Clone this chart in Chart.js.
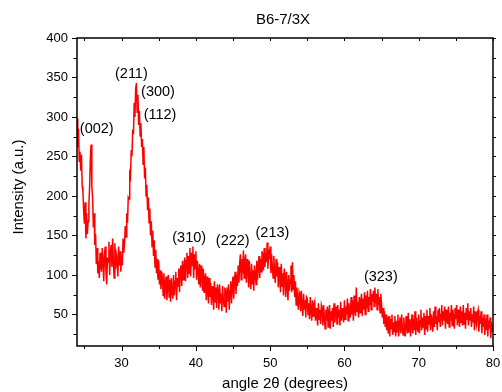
<!DOCTYPE html>
<html>
<head>
<meta charset="utf-8">
<title>B6-7/3X</title>
<script src="https://cdn.jsdelivr.net/npm/chart.js@4.4.0/dist/chart.umd.min.js"></script>
<style>
  body { margin: 0; background: #fff; }
  canvas { display: block; }
</style>
</head>
<body>
<canvas id="xrdChart" width="502" height="392"></canvas>
<script>
// XRD scan, 2θ from 24° to 80°, one reading every 0.1°
const angleStart = 24;
const angleStep = 0.1;
const intensity = [
  298, 262, 285, 244, 256, 232, 252, 212, 206, 180,
  165, 192, 146, 178, 152, 168, 188, 212, 248, 265,
  212, 198, 160, 178, 138, 152, 114, 134, 102, 118,
  96, 128, 112, 104, 134, 118, 92, 126, 136, 104,
  88, 122, 116, 142, 100, 128, 138, 110, 146, 118,
  96, 140, 108, 126, 120, 98, 136, 112, 130, 104,
  124, 112, 146, 128, 140, 162, 148, 178, 166, 198,
  196, 228, 224, 258, 250, 284, 278, 318, 300, 336,
  343, 306, 328, 290, 308, 276, 292, 262, 272, 240,
  262, 222, 236, 200, 214, 182, 198, 166, 184, 150,
  168, 136, 156, 124, 144, 110, 132, 102, 120, 94,
  118, 88, 106, 82, 104, 96, 74, 102, 70, 90,
  98, 68, 88, 100, 72, 94, 66, 96, 80, 70,
  100, 74, 92, 104, 68, 96, 86, 108, 78, 104,
  112, 86, 118, 94, 108, 122, 92, 118, 128, 96,
  124, 102, 134, 98, 128, 112, 136, 96, 126, 108,
  130, 94, 118, 104, 88, 114, 84, 112, 98, 80,
  108, 78, 96, 102, 68, 98, 82, 64, 96, 72,
  90, 62, 86, 78, 56, 92, 66, 84, 58, 88,
  80, 56, 88, 64, 76, 54, 86, 68, 60, 84,
  78, 52, 84, 66, 88, 56, 80, 92, 64, 86,
  98, 70, 94, 104, 76, 100, 86, 112, 90, 116,
  126, 94, 120, 102, 131, 96, 118, 126, 90, 120,
  112, 84, 118, 94, 82, 114, 88, 106, 80, 112,
  104, 88, 118, 94, 112, 124, 96, 120, 104, 130,
  124, 106, 134, 110, 128, 116, 141, 108, 132, 120,
  136, 102, 126, 110, 96, 124, 102, 90, 120, 98,
  116, 84, 110, 96, 78, 114, 86, 102, 74, 108,
  98, 72, 104, 86, 68, 100, 80, 94, 112, 78,
  116, 82, 100, 72, 92, 62, 84, 68, 56, 78,
  74, 54, 80, 60, 48, 76, 56, 68, 46, 72,
  70, 50, 64, 44, 72, 54, 42, 68, 48, 62,
  66, 42, 58, 48, 36, 64, 44, 56, 38, 62,
  58, 36, 62, 46, 32, 56, 42, 60, 34, 52,
  62, 32, 54, 42, 58, 34, 64, 40, 50, 60,
  38, 62, 46, 56, 36, 66, 42, 58, 48, 40,
  68, 44, 60, 50, 70, 42, 64, 54, 46, 72,
  50, 68, 42, 74, 56, 48, 84, 54, 66, 46,
  72, 52, 66, 76, 48, 70, 56, 78, 50, 74,
  58, 80, 54, 72, 62, 82, 56, 76, 66, 80,
  60, 84, 64, 76, 56, 82, 62, 72, 52, 76,
  62, 46, 58, 38, 54, 34, 50, 30, 46, 26,
  48, 22, 44, 32, 50, 24, 40, 28, 48, 22,
  42, 28, 50, 22, 38, 46, 26, 50, 32, 24,
  46, 30, 22, 48, 34, 26, 52, 28, 44, 22,
  38, 50, 26, 44, 30, 54, 24, 46, 34, 28,
  50, 26, 42, 56, 30, 46, 34, 52, 24, 48,
  32, 56, 28, 48, 38, 58, 30, 50, 42, 28,
  54, 34, 60, 38, 48, 30, 56, 40, 58, 34,
  50, 62, 36, 54, 42, 60, 32, 56, 44, 38,
  60, 34, 52, 42, 62, 36, 56, 46, 32, 58,
  44, 62, 36, 56, 44, 34, 60, 40, 54, 36,
  62, 38, 52, 32, 58, 44, 64, 36, 54, 42,
  58, 34, 50, 40, 60, 30, 54, 42, 36, 52,
  56, 28, 48, 38, 54, 26, 46, 34, 50, 24,
  44, 30, 50, 22, 42, 32, 46, 20, 40, 28,
  36
];
const xTicks = [30, 40, 50, 60, 70, 80];
const yTicks = [50, 100, 150, 200, 250, 300, 350, 400];

// peak (hkl) labels, anchored at (angle, intensity)
const peakNames = ['(002)', '(211)', '(300)', '(112)', '(310)', '(222)', '(213)', '(323)'];
const peakAngles = [26.66, 31.32, 34.9, 35.18, 39.1, 44.97, 50.31, 64.9];
const peakLevels = [285, 354, 331, 303, 147, 143, 153, 97];

const FONT = '"Liberation Sans", Arial, sans-serif';

const points = intensity.map((v, i) => ({ x: angleStart + i * angleStep, y: v }));

// Origin-style box frame with major/minor ticks plus all the texts
const frameAndText = {
    id: 'frameAndText',
    afterDraw(chart) {
        const { ctx, chartArea: a, scales: { x, y } } = chart;
        ctx.save();
        ctx.strokeStyle = '#000';
        ctx.lineWidth = 1.5;
        ctx.strokeRect(a.left, a.top, a.right - a.left, a.bottom - a.top);

        ctx.lineWidth = 1;
        ctx.beginPath();
        for (let v = 25; v <= 80; v += 5) {
            const px = Math.round(x.getPixelForValue(v)) + 0.5;
            const len = v % 10 === 0 ? 5 : 3;
            ctx.moveTo(px, a.bottom); ctx.lineTo(px, a.bottom + len);
            ctx.moveTo(px, a.top); ctx.lineTo(px, a.top + 3);
        }
        for (let v = 25; v <= 400; v += 25) {
            const py = Math.round(y.getPixelForValue(v)) + 0.5;
            const len = v % 50 === 0 ? 5 : 3.5;
            ctx.moveTo(a.left - len, py); ctx.lineTo(a.left, py);
            ctx.moveTo(a.right, py); ctx.lineTo(a.right + 3, py);
        }
        ctx.stroke();

        ctx.fillStyle = '#000';
        ctx.textAlign = 'center';
        ctx.textBaseline = 'middle';
        ctx.font = '15px ' + FONT;
        const midX = (a.left + a.right) / 2;
        ctx.fillText('B6-7/3X', midX - 2, 20);
        ctx.fillText('angle 2θ (degrees)', midX, 384);

        ctx.save();
        ctx.translate(19, (a.top + a.bottom) / 2 - 5);
        ctx.rotate(-Math.PI / 2);
        ctx.fillText('Intensity (a.u.)', 0, 0);
        ctx.restore();

        ctx.font = '14.5px ' + FONT;
        peakNames.forEach((name, i) => {
            ctx.fillText(name, x.getPixelForValue(peakAngles[i]), y.getPixelForValue(peakLevels[i]));
        });
        ctx.restore();
    }
};

const ctx = document.getElementById('xrdChart').getContext('2d');
const xrdChart = new Chart(ctx, {
    type: 'line',
    data: {
        datasets: [{
            data: points,
            borderColor: 'rgb(255, 0, 0)',
            borderWidth: 1.5,
            pointRadius: 0,
            tension: 0
        }]
    },
    options: {
        responsive: false,
        animation: false,
        devicePixelRatio: 1,
        layout: { padding: { top: 38, right: 9, left: 0, bottom: 0 } },
        plugins: {
            legend: { display: false },
            tooltip: { enabled: false }
        },
        scales: {
            x: {
                type: 'linear',
                min: 24,
                max: 80,
                grid: { display: true, drawOnChartArea: false, drawTicks: false },
                border: { display: false },
                afterBuildTicks: s => { s.ticks = xTicks.map(v => ({ value: v })); },
                afterFit: s => { s.height = 46; s.paddingLeft = 0; s.paddingRight = 0; },
                ticks: {
                    autoSkip: false,
                    maxRotation: 0,
                    padding: 10,
                    color: '#000',
                    font: { family: FONT, size: 13 }
                }
            },
            y: {
                min: 10,
                max: 400,
                grid: { display: true, drawOnChartArea: false, drawTicks: false },
                border: { display: false },
                afterBuildTicks: s => { s.ticks = yTicks.map(v => ({ value: v })); },
                afterFit: s => { s.width = 77; s.paddingTop = 0; s.paddingBottom = 0; },
                ticks: {
                    autoSkip: false,
                    padding: 9,
                    color: '#000',
                    font: { family: FONT, size: 13 }
                }
            }
        }
    },
    plugins: [frameAndText]
});
</script>
</body>
</html>
